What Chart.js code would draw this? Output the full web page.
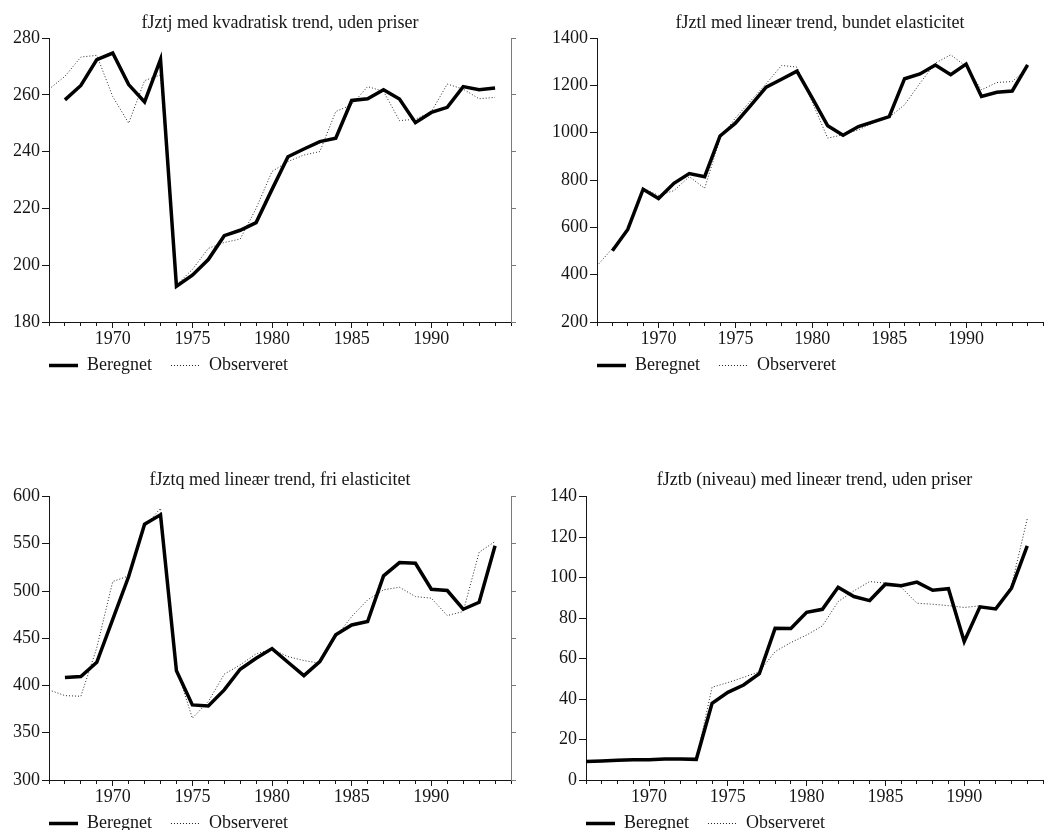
<!DOCTYPE html>
<html>
<head>
<meta charset="utf-8">
<title>fJzt – beregnet og observeret</title>
<script src="https://cdn.jsdelivr.net/npm/chart.js@4.4.1/dist/chart.umd.min.js"></script>
<style>
  html, body { margin: 0; padding: 0; background: #fff; width: 1049px; height: 830px; overflow: hidden; }
  canvas { position: absolute; }
</style>
</head>
<body>
<canvas id="pJ" width="524" height="415" style="left:0;top:0"></canvas>
<canvas id="pL" width="525" height="415" style="left:524px;top:0"></canvas>
<canvas id="pQ" width="524" height="445" style="left:0;top:415px"></canvas>
<canvas id="pB" width="525" height="445" style="left:524px;top:415px"></canvas>
<script>
// Years on the horizontal axis and the labelled years
const years = [1966, 1967, 1968, 1969, 1970, 1971, 1972, 1973, 1974, 1975,
               1976, 1977, 1978, 1979, 1980, 1981, 1982, 1983, 1984, 1985,
               1986, 1987, 1988, 1989, 1990, 1991, 1992, 1993, 1994];
const yearLabels = [1970, 1975, 1980, 1985, 1990];
const minorYears = [1966, 1967, 1968, 1969, 1970, 1971, 1972, 1973, 1974, 1975,
                    1976, 1977, 1978, 1979, 1980, 1981, 1982, 1983, 1984, 1985,
                    1986, 1987, 1988, 1989, 1990, 1991, 1992, 1993, 1994, 1995];
const seriesNames = ['Beregnet', 'Observeret'];

// fJztj med kvadratisk trend, uden priser
const beregnetJ = [null, 258.2, 263.3, 272.4, 274.7, 263.6, 257.5, 272.5, 192.6, 196.5,
                   202.0, 210.4, 212.3, 215.0, 226.7, 238.2, 240.9, 243.5, 244.7, 258.0,
                   258.6, 261.8, 258.5, 250.2, 253.8, 255.6, 262.9, 261.8, 262.4];
const observeretJ = [262.0, 266.5, 273.3, 273.9, 259.4, 250.0, 265.0, 267.0, 193.0, 198.5,
                     205.9, 208.0, 209.2, 220.0, 233.0, 236.5, 238.8, 240.0, 254.1, 256.5,
                     262.9, 261.2, 250.9, 251.4, 254.0, 263.8, 262.0, 258.6, 259.1];
const ticksJ = [180, 200, 220, 240, 260, 280];

// fJztl med lineær trend, bundet elasticitet
const beregnetL = [null, 501, 591, 761, 722, 786, 827, 814, 986, 1040,
                   1115, 1192, 1226, 1260, 1146, 1029, 989, 1026, 1047, 1068,
                   1228, 1248, 1286, 1245, 1290, 1153, 1171, 1176, 1286];
const observeretL = [437, 511, 590, 765, 735, 755, 814, 765, 975, 1062,
                     1135, 1207, 1284, 1277, 1128, 977, 991, 1012, 1043, 1065,
                     1118, 1209, 1294, 1329, 1280, 1181, 1212, 1216, 1273];
const ticksL = [200, 400, 600, 800, 1000, 1200, 1400];

// fJztq med lineær trend, fri elasticitet
const beregnetQ = [null, 408.4, 409.5, 424.6, 470.0, 515.3, 570.7, 580.6, 415.5, 379.5,
                   378.4, 395.3, 417.2, 428.9, 439.1, 424.6, 410.5, 425.3, 453.6, 464.1,
                   467.7, 516.0, 530.1, 529.4, 501.9, 500.5, 480.7, 488.1, 547.8];
const observeretQ = [395.3, 389.3, 388.6, 440.0, 510.0, 516.0, 568.0, 587.6, 418.0, 365.4,
                     383.0, 412.0, 421.8, 433.5, 438.4, 430.6, 426.4, 423.6, 451.0, 473.0,
                     490.6, 501.2, 504.0, 494.1, 492.4, 474.0, 478.3, 541.0, 552.4];
const ticksQ = [300, 350, 400, 450, 500, 550, 600];

// fJztb (niveau) med lineær trend, uden priser
const beregnetB = [9.1, 9.4, 9.7, 10.0, 10.0, 10.4, 10.4, 10.2, 37.9, 43.3,
                   46.9, 52.5, 74.9, 74.8, 82.8, 84.3, 95.2, 90.6, 88.6, 96.7,
                   95.9, 97.7, 93.7, 94.5, 68.4, 85.5, 84.5, 94.7, 115.6];
const observeretB = [9.1, 9.4, 9.7, 10.0, 10.0, 10.4, 10.4, 10.2, 45.8, 48.1,
                     50.7, 53.5, 63.4, 67.9, 71.6, 76.1, 88.1, 93.4, 98.0, 97.2,
                     95.2, 87.3, 86.8, 86.1, 85.2, 86.0, 84.5, 96.0, 129.0];
const ticksB = [0, 20, 40, 60, 80, 100, 120, 140];

const INK = '#161616';
const SERIF = "'Liberation Serif', 'Times New Roman', serif";
const FONT = { family: SERIF, size: 18, weight: 'normal' };
const LEGEND_PAD = 19;

function points(values) {
  return years.map((yr, i) => ({ x: yr, y: values[i] }));
}

// Puts the legend just under the tick labels, starting at the plot's left edge
const legendPlacement = {
  id: 'legendPlacement',
  afterLayout(chart, args, opts) {
    const lg = chart.legend;
    if (!lg) return;
    const w = lg.width;
    lg.left = chart.chartArea.left - LEGEND_PAD;
    lg.right = lg.left + w;
    lg.top = chart.chartArea.bottom + opts.gap;
    lg.bottom = lg.top + lg.height;
  }
};

function drawPanel(id, title, calc, obs, yTicks, box) {
  const yMin = yTicks[0];
  const yMax = yTicks[yTicks.length - 1];
  return new Chart(document.getElementById(id), {
    type: 'line',
    data: {
      datasets: [
        {
          label: seriesNames[0], data: points(calc), xAxisID: 'x', yAxisID: 'y',
          borderColor: '#000', backgroundColor: 'transparent', borderWidth: 3.5,
          pointRadius: 0, tension: 0, borderJoinStyle: 'miter'
        },
        {
          label: seriesNames[1], data: points(obs), xAxisID: 'x', yAxisID: 'y',
          borderColor: '#2a2a2a', backgroundColor: 'transparent', borderWidth: 1,
          borderDash: [1, 2], pointRadius: 0, tension: 0
        }
      ]
    },
    plugins: [legendPlacement],
    options: {
      responsive: false,
      animation: false,
      devicePixelRatio: 1,
      events: [],
      layout: { padding: { left: 0, right: box.padR, top: 0, bottom: box.padB } },
      plugins: {
        title: {
          display: true, text: title, fullSize: false, color: INK, font: FONT,
          padding: { top: box.t1, bottom: box.t2 }
        },
        legend: {
          position: 'bottom', align: 'start', fullSize: true,
          labels: {
            // a flat box: the legend key is drawn as a short stroke in the line's own dash
            boxWidth: 29, boxHeight: 0,
            padding: LEGEND_PAD, color: INK, font: FONT
          }
        },
        legendPlacement: { gap: 15.5 },
        tooltip: { enabled: false }
      },
      scales: {
        xm: {
          type: 'linear', position: 'bottom', min: 1966, max: 1995, weight: 0,
          afterBuildTicks: s => { s.ticks = minorYears.map(v => ({ value: v })); },
          ticks: { display: false },
          grid: { drawOnChartArea: false, drawTicks: true, tickLength: 4, color: INK },
          border: { display: false },
          afterFit: s => { s.height = 0; }
        },
        x: {
          type: 'linear', position: 'bottom', min: 1966, max: 1995, weight: 1,
          afterBuildTicks: s => { s.ticks = yearLabels.map(v => ({ value: v })); },
          ticks: { padding: 0, color: INK, font: FONT, maxRotation: 0, autoSkip: false,
                   callback: v => String(v) },
          grid: { drawOnChartArea: false, tickLength: 6, color: INK },
          border: { color: INK, width: 1 },
          afterFit: s => { s.height = 30; }
        },
        y: {
          position: 'left', min: yMin, max: yMax,
          afterBuildTicks: s => { s.ticks = yTicks.map(v => ({ value: v })); },
          ticks: { padding: 2, color: INK, font: FONT, callback: v => String(v) },
          grid: { drawOnChartArea: false, tickLength: 7, color: INK },
          border: { color: INK, width: 1 },
          afterFit: s => { s.width = box.axisLeft; }
        },
        y2: {
          display: box.rightAxis, position: 'right', min: yMin, max: yMax,
          afterBuildTicks: s => { s.ticks = yTicks.map(v => ({ value: v })); },
          ticks: { display: false },
          grid: { drawOnChartArea: false, tickLength: 5, color: '#7a7a7a' },
          border: { color: '#7a7a7a', width: 1 },
          afterFit: s => { s.width = 5; }
        }
      }
    }
  });
}

const topBox = { t1: 12.5, t2: 3.9, padB: 16 };
const lowBox = { t1: 54.8, t2: 5.1, padB: 3 };

drawPanel('pJ', 'fJztj med kvadratisk trend, uden priser', beregnetJ, observeretJ, ticksJ,
  Object.assign({ axisLeft: 49, padR: 8, rightAxis: true }, topBox));
drawPanel('pL', 'fJztl med lineær trend, bundet elasticitet', beregnetL, observeretL, ticksL,
  Object.assign({ axisLeft: 73, padR: 1, rightAxis: false }, topBox));
drawPanel('pQ', 'fJztq med lineær trend, fri elasticitet', beregnetQ, observeretQ, ticksQ,
  Object.assign({ axisLeft: 49, padR: 8, rightAxis: true }, lowBox));
drawPanel('pB', 'fJztb (niveau) med lineær trend, uden priser', beregnetB, observeretB, ticksB,
  Object.assign({ axisLeft: 62, padR: 1, rightAxis: false }, lowBox));
</script>
</body>
</html>
